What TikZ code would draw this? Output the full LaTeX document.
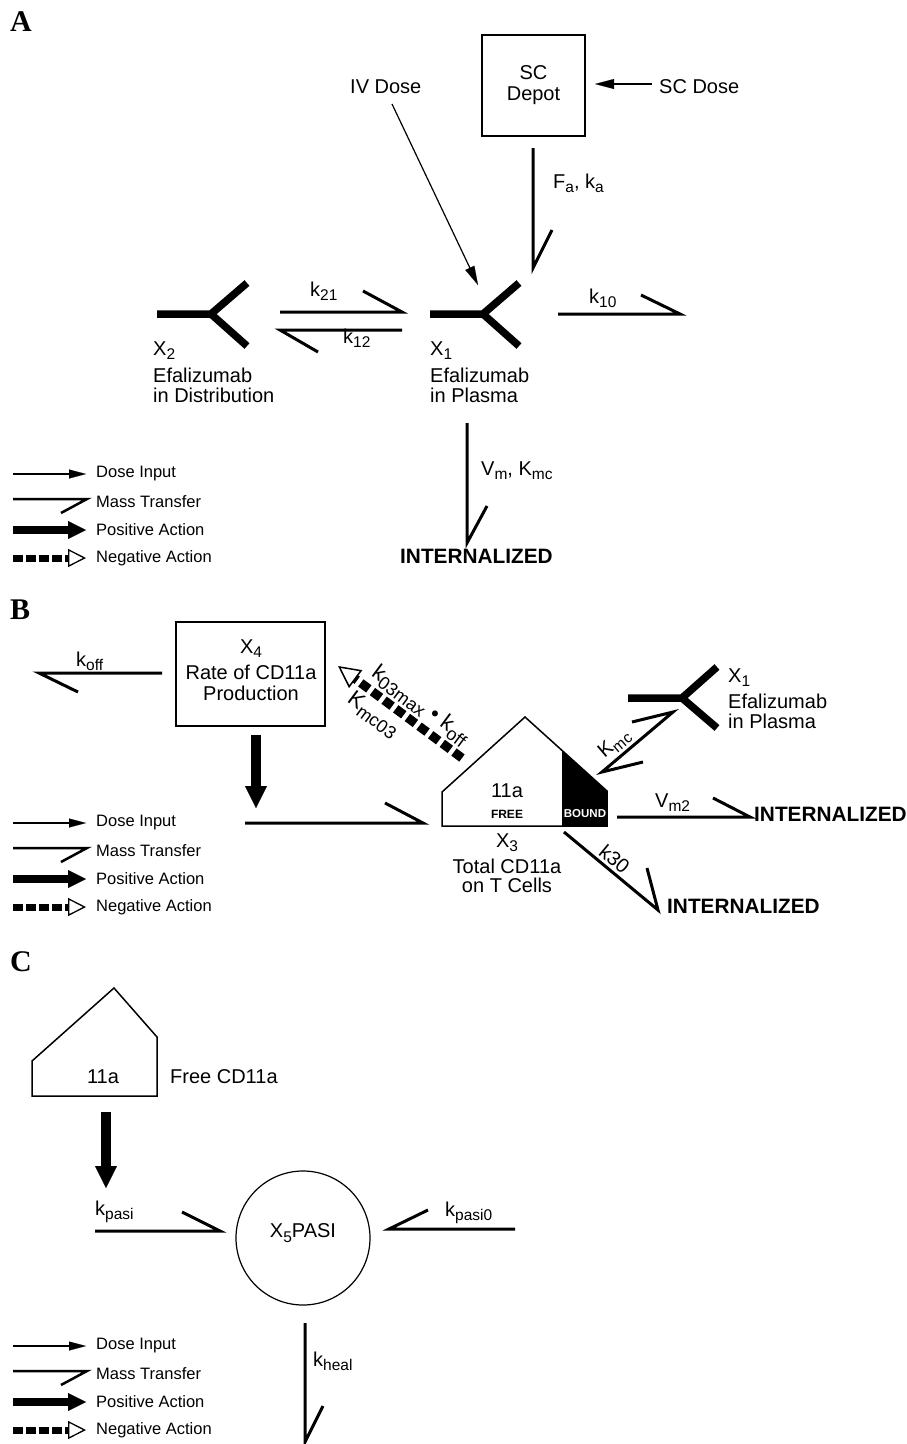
\documentclass[tikz,border=0pt]{standalone}
\usepackage{fontspec}
\setmainfont{Liberation Sans}
\newfontfamily\panelfont{Liberation Serif}
\usetikzlibrary{arrows.meta}
\newcommand{\sbs}[1]{\raisebox{-4.5pt}{\fontsize{15.5}{15.5}\selectfont #1}}
\newcommand{\sbl}[1]{\raisebox{-5pt}{\fontsize{18}{18}\selectfont #1}}
\tikzset{
  txt/.style={font=\fontsize{20}{21}\selectfont, inner sep=0pt},
  bigtxt/.style={font=\fontsize{22}{23}\selectfont, inner sep=0pt},
  boldtxt/.style={font=\bfseries\fontsize{20.8}{21}\selectfont, inner sep=0pt},
  lg/.style={font=\fontsize{16.5}{18}\selectfont, inner sep=0pt, anchor=west},
  panel/.style={font=\panelfont\bfseries\fontsize{30}{30}\selectfont, inner sep=0pt, anchor=base west},
  mt/.style={line width=3pt},
  lgmt/.style={line width=2.5pt},
  ab/.style={line width=7.5pt},
  frame/.style={draw, line width=1.5pt},
  dosearr/.style={line width=1.2pt, -{Triangle[length=19pt,width=10pt,line width=0.1pt]}},
  lgdose/.style={line width=1.2pt, -{Triangle[length=17pt,width=9pt,line width=0.1pt]}},
  lgpos/.style={line width=8pt, -{Triangle[length=18pt,width=18pt,line width=0.1pt]}},
  lgneg/.style={line width=7pt, dash pattern=on 9.5pt off 3.5pt, -{Triangle[open,length=18pt,width=18pt,line width=1.3pt]}},
  bigpos/.style={line width=10pt, -{Triangle[length=22pt,width=22pt,line width=0.1pt]}},
  bigneg/.style={line width=9pt, dash pattern=on 10pt off 4.5pt, -{Triangle[open,length=22pt,width=22pt,line width=1.5pt]}},
}
\newcommand{\drawlegend}[2]{%
\begin{scope}[shift={(0,#1)}]
  \coordinate (#2d1) at (13,0);  \coordinate (#2d2) at (86,0);
  \draw[lgdose] (#2d1) -- (#2d2);
  \node[lg] (#2dt) at (96,0) {Dose Input};
  \coordinate (#2m1) at (13,25); \coordinate (#2m2) at (87,25);
  \draw[lgmt] (#2m1) -- (#2m2) -- ++(-26,14);
  \node[lg] (#2mt) at (96,28) {Mass Transfer};
  \coordinate (#2p1) at (13,56); \coordinate (#2p2) at (86,56);
  \draw[lgpos] (#2p1) -- (#2p2);
  \node[lg] (#2pt) at (96,56) {Positive Action};
  \coordinate (#2n1) at (13,84); \coordinate (#2n2) at (86,84);
  \draw[lgneg] (#2n1) -- (#2n2);
  \node[lg] (#2nt) at (96,84) {Negative Action};
\end{scope}}
\begin{document}
\begin{tikzpicture}[x=1pt,y=-1pt]
\fill[white] (0,0) rectangle (907,1444);
\path[use as bounding box] (0,0) rectangle (907,1444);

% ================= Panel A =================
\node[panel] (lA) at (10,31) {A};
\node[txt, anchor=west] (iv) at (350,87) {IV Dose};
\node[frame, txt, align=center, minimum width=103pt, minimum height=101pt] (depot) at (533.5,85.5) {SC\\Depot};
\node[txt, anchor=west] (scd) at (659,87) {SC Dose};
\coordinate (scin) at (652,84);
\coordinate (scend) at (595,84);
\draw[dosearr] (scin) -- (scend);
\coordinate (ivs) at (392,104);
\coordinate (ive) at (478,285);
\draw[dosearr] (ivs) -- (ive);
% absorption
\coordinate (fa1) at (533,148);
\coordinate (fa2) at (533,268);
\draw[mt] (fa1) -- (fa2) -- ++(19,-38);
\node[txt, anchor=base west] (falab) at (553,188) {F\sbs{a}, k\sbs{a}};
% X2 antibody
\coordinate (x2s) at (157,314);
\coordinate (x2j) at (211,314);
\coordinate (x2u) at (247,283);
\coordinate (x2d) at (247,346);
\draw[ab] (x2s) -- (x2j) -- (x2u);
\draw[ab] (x2j) -- (x2d);
\node[txt, anchor=base west] (x2a) at (153,355) {X\sbs{2}};
\node[txt, anchor=base west] (x2b) at (153,382) {Efalizumab};
\node[txt, anchor=base west] (x2c) at (153,402) {in Distribution};
% X1 antibody
\coordinate (x1s) at (430,314);
\coordinate (x1j) at (483,314);
\coordinate (x1u) at (519,283);
\coordinate (x1d) at (519,346);
\draw[ab] (x1s) -- (x1j) -- (x1u);
\draw[ab] (x1j) -- (x1d);
\node[txt, anchor=base west] (x1a) at (430,355) {X\sbs{1}};
\node[txt, anchor=base west] (x1b) at (430,382) {Efalizumab};
\node[txt, anchor=base west] (x1c) at (430,402) {in Plasma};
% k21 / k12
\coordinate (k21s) at (280,312);
\coordinate (k21e) at (402,312);
\draw[mt] (k21s) -- (k21e) -- ++(-39,-21);
\node[txt, anchor=base west] (k21l) at (310,296) {k\sbs{21}};
\coordinate (k12s) at (402,330);
\coordinate (k12e) at (280,330);
\draw[mt] (k12s) -- (k12e) -- ++(38,22);
\node[txt, anchor=base west] (k12l) at (343,343) {k\sbs{12}};
% k10
\coordinate (k10s) at (558,314);
\coordinate (k10e) at (680,314);
\draw[mt] (k10s) -- (k10e) -- ++(-39,-19);
\node[txt, anchor=base west] (k10l) at (589,303) {k\sbs{10}};
% Vm Kmc
\coordinate (vm1) at (467,423);
\coordinate (vm2) at (467,543);
\draw[mt] (vm1) -- (vm2) -- ++(20,-37);
\node[txt, anchor=base west] (vml) at (481,475) {V\sbs{m}, K\sbs{mc}};
\node[boldtxt, anchor=base west] (intA) at (400,563) {INTERNALIZED};
\drawlegend{474}{la}

% ================= Panel B =================
\node[panel] (lB) at (10,619) {B};
\node[frame, minimum width=149pt, minimum height=104pt] (x4) at (250.5,674) {};
\node[txt, anchor=base] (x4a) at (251,653) {X\sbs{4}};
\node[txt, anchor=base] (x4b) at (251,679) {Rate of CD11a};
\node[txt, anchor=base] (x4c) at (251,700) {Production};
% koff
\coordinate (ko1) at (162,673);
\coordinate (ko2) at (39,673);
\draw[mt] (ko1) -- (ko2) -- ++(39,19);
\node[txt, anchor=base west] (kol) at (76,666) {k\sbs{off}};
% negative feedback
\coordinate (ngt) at (462,758);
\coordinate (ngh) at (338,666);
\draw[bigneg] (ngt) -- (ngh);
\path (ngh) -- (ngt)
  node[bigtxt, sloped, pos=0.58, above=6.5pt] (nglA) {k\sbl{03max} • k\sbl{off}}
  node[bigtxt, sloped, pos=0.37, below=8pt] (nglB) {K\sbl{mc03}};
% positive action into production
\coordinate (pb1) at (256,735);
\coordinate (pb2) at (256,808);
\draw[bigpos] (pb1) -- (pb2);
\coordinate (mb1) at (245,823);
\coordinate (mb2) at (423,823);
\draw[mt] (mb1) -- (mb2) -- ++(-38,-20);
% house X3
\coordinate (h1) at (442,826);
\coordinate (h2) at (442,792);
\coordinate (h3) at (525,717);
\coordinate (h4) at (607,791);
\coordinate (h5) at (607,826);
\fill[black] (562,750) -- (h4) -- (h5) -- (562,826) -- cycle;
\draw[line width=1.5pt, line join=miter] (h1) -- (h2) -- (h3) -- (h4) -- (h5) -- cycle;
\node[txt] (x3t) at (507,791) {11a};
\node[font=\bfseries\fontsize{12}{12}\selectfont, inner sep=0pt] (free) at (507,814) {FREE};
\node[font=\bfseries\fontsize{11.5}{12}\selectfont, inner sep=0pt, text=white] (bound) at (585,814) {BOUND};
\node[txt, anchor=base] (x3a) at (507,847) {X\sbs{3}};
\node[txt, anchor=base] (x3b) at (507,873) {Total CD11a};
\node[txt, anchor=base] (x3c) at (507,892) {on T Cells};
% X1 in panel B
\coordinate (bx1s) at (628,698);
\coordinate (bx1j) at (682,698);
\coordinate (bx1u) at (717,667);
\coordinate (bx1d) at (717,728);
\draw[ab] (bx1s) -- (bx1j) -- (bx1u);
\draw[ab] (bx1j) -- (bx1d);
\node[txt, anchor=base west] (bx1a) at (728,682) {X\sbs{1}};
\node[txt, anchor=base west] (bx1b) at (728,708) {Efalizumab};
\node[txt, anchor=base west] (bx1c) at (728,728) {in Plasma};
% Kmc binding
\coordinate (kmA) at (602,772);
\coordinate (kmB) at (673,712);
\draw[mt] (632,722) -- (kmB) -- (kmA) -- (643,762);
\path (kmA) -- (kmB) node[txt, sloped, pos=0.3, above=4pt] (kml) {K\sbs{mc}};
% Vm2
\coordinate (vb1) at (617,817);
\coordinate (vb2) at (750,817);
\draw[mt] (vb1) -- (vb2) -- ++(-37,-19);
\node[txt, anchor=base west] (vbl) at (655,807) {V\sbs{m2}};
\node[boldtxt, anchor=base west] (intB1) at (754,821) {INTERNALIZED};
% k30
\coordinate (k31) at (564,832);
\coordinate (k32) at (658,910);
\draw[mt] (k31) -- (k32) -- ++(-11,-42);
\path (k31) -- (k32) node[txt, sloped, pos=0.46, above=4pt] (k30l) {k30};
\node[boldtxt, anchor=base west] (intB2) at (667,913) {INTERNALIZED};
\drawlegend{823}{lb}

% ================= Panel C =================
\node[panel] (lC) at (10,971) {C};
\coordinate (c1) at (32,1096);
\coordinate (c2) at (32,1061);
\coordinate (c3) at (114,988);
\coordinate (c4) at (157,1037);
\coordinate (c5) at (157,1096);
\draw[line width=1.5pt, line join=miter] (c1) -- (c2) -- (c3) -- (c4) -- (c5) -- cycle;
\node[txt] (c11a) at (103,1077) {11a};
\node[txt, anchor=west] (cfree) at (170,1077) {Free CD11a};
\coordinate (cp1) at (106,1112);
\coordinate (cp2) at (106,1188);
\draw[bigpos] (cp1) -- (cp2);
% kpasi
\coordinate (kp1) at (95,1231);
\coordinate (kp2) at (220,1231);
\draw[mt] (kp1) -- (kp2) -- ++(-38,-19);
\node[txt, anchor=base west] (kpl) at (95,1215) {k\sbs{pasi}};
% circle
\node[draw, circle, line width=1.2pt, minimum size=134pt, inner sep=0pt] (x5) at (303,1238) {};
\node[txt] (x5t) at (303,1233) {X\sbs{5}PASI};
% kpasi0
\coordinate (kq1) at (515,1229);
\coordinate (kq2) at (389,1229);
\draw[mt] (kq1) -- (kq2) -- ++(39,-19);
\node[txt, anchor=base west] (kql) at (445,1216) {k\sbs{pasi0}};
% kheal
\coordinate (kh1) at (305,1323);
\coordinate (kh2) at (305,1442);
\draw[mt] (kh1) -- (kh2) -- ++(18,-36);
\node[txt, anchor=base west] (khl) at (313,1366) {k\sbs{heal}};
\drawlegend{1346}{lc}
\end{tikzpicture}
\end{document}
